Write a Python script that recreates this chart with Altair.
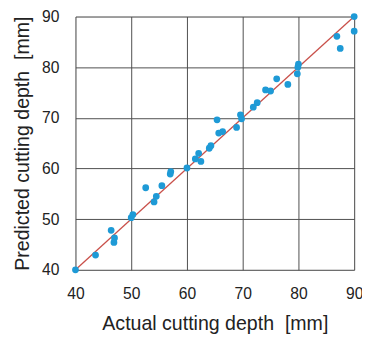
import altair as alt
import pandas as pd

actual = [40.0, 43.6, 46.4, 47.0, 46.9, 50.0, 50.3, 52.6, 54.1, 54.5, 55.5, 57.0, 57.1,
          60.0, 61.5, 62.1, 62.5, 64.0, 64.3, 65.4, 65.7, 66.4, 68.9, 69.6, 69.8, 71.9,
          72.6, 74.1, 75.0, 76.1, 78.1, 79.8, 79.9, 80.0, 86.9, 87.5, 90.0, 90.0]
predicted = [40.0, 42.9, 47.8, 46.3, 45.4, 50.3, 50.9, 56.2, 53.4, 54.5, 56.6, 58.9, 59.4,
             60.1, 61.9, 63.0, 61.4, 64.0, 64.5, 69.6, 67.0, 67.3, 68.1, 70.6, 69.8, 72.1,
             73.0, 75.5, 75.3, 77.7, 76.6, 78.7, 80.0, 80.6, 86.1, 83.7, 90.0, 87.1]
line_x = [40, 90]
ticks = [40, 50, 60, 70, 80, 90]

pts = pd.DataFrame({"actual": actual, "predicted": predicted})
ln = pd.DataFrame({"actual": line_x, "predicted": line_x})

FONT = "Liberation Sans"
xs = alt.Scale(domain=[40, 90], nice=False, zero=False)
ys = alt.Scale(domain=[40, 90], nice=False, zero=False)

xax = alt.Axis(values=ticks, title="Actual cutting depth\u00a0\u00a0[mm]", grid=True,
               gridColor="#4d4d4d", gridWidth=1, gridOpacity=1, domain=False, ticks=False,
               labelFlush=False, labelOverlap=False,
               labelFont=FONT, labelFontSize=16, labelColor="#222222", labelPadding=16,
               titleFont=FONT, titleFontSize=20, titleFontWeight="normal", titleColor="#222222",
               titlePadding=13)
yax = alt.Axis(values=ticks, title="Predicted cutting depth\u00a0\u00a0[mm]", grid=True,
               gridColor="#4d4d4d", gridWidth=1, gridOpacity=1, domain=False, ticks=False,
               labelFlush=False, labelOverlap=False,
               labelFont=FONT, labelFontSize=16, labelColor="#222222", labelPadding=17,
               titleFont=FONT, titleFontSize=20, titleFontWeight="normal", titleColor="#222222",
               titlePadding=9)

line = alt.Chart(ln).mark_line(color="#c9504a", strokeWidth=1.3, clip=False).encode(
    x=alt.X("actual:Q", scale=xs, axis=xax),
    y=alt.Y("predicted:Q", scale=ys, axis=yax),
)
dots = alt.Chart(pts).mark_circle(color="#1e9ad6", size=48, opacity=1, clip=False).encode(
    x=alt.X("actual:Q", scale=xs),
    y=alt.Y("predicted:Q", scale=ys),
)

chart = alt.layer(line, dots).properties(
    width=285, height=259,
    autosize=alt.AutoSizeParams(type="none"),
    padding={"left": 69, "top": 5, "right": 8, "bottom": 66},
).configure_view(stroke="#4d4d4d", strokeWidth=1).configure(background="white")

chart.save("out.html", embed_options={"renderer": "svg", "actions": False})
